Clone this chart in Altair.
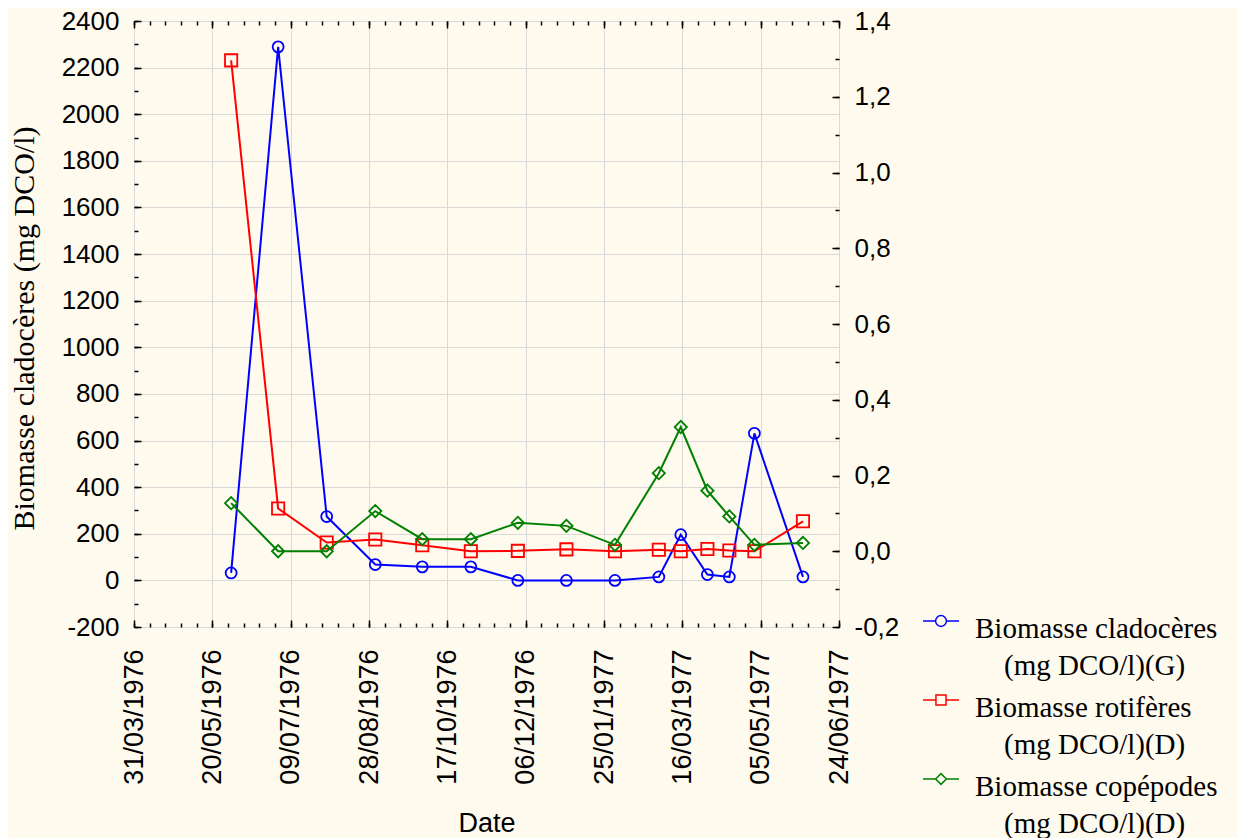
import altair as alt
import pandas as pd

# ---------------- data ----------------
dates = ["1976-06-01", "1976-07-01", "1976-08-01", "1976-09-01", "1976-10-01",
         "1976-11-01", "1976-12-01", "1977-01-01", "1977-02-01", "1977-03-01",
         "1977-03-15", "1977-04-01", "1977-04-15", "1977-05-01", "1977-06-01"]
cladoceres = [32, 2289, 274, 68, 58, 58, 0, 0, 0, 15, 196, 25, 15, 631, 15]
rotiferes = [1.296, 0.113, 0.023, 0.031, 0.016, 0.0, 0.001, 0.005, 0.0, 0.004,
             0.0, 0.006, 0.002, 0.0, 0.079]
copepodes = [0.127, 0.0, 0.0, 0.106, 0.032, 0.032, 0.075, 0.067, 0.017, 0.206,
             0.328, 0.160, 0.092, 0.017, 0.022]

series_names = ["Biomasse cladocères (mg DCO/l)(G)",
                "Biomasse rotifères (mg DCO/l)(D)",
                "Biomasse copépodes (mg DCO/l)(D)"]
series_colors = ["#0000FF", "#FF0000", "#008000"]

x_tick_dates = ["1976-03-31", "1976-05-20", "1976-07-09", "1976-08-28", "1976-10-17",
                "1976-12-06", "1977-01-25", "1977-03-16", "1977-05-05", "1977-06-24"]
left_ticks = [-200, 0, 200, 400, 600, 800, 1000, 1200, 1400, 1600, 1800, 2000, 2200, 2400]
right_ticks = [-0.2, 0.0, 0.2, 0.4, 0.6, 0.8, 1.0, 1.2, 1.4]

y_left_title = "Biomasse cladocères (mg DCO/l)"
x_title = "Date"


def ms(d):
    return int(pd.Timestamp(d, tz="UTC").timestamp() * 1000)


x_major = [ms(d) for d in x_tick_dates]
x_minor = [int(t.timestamp() * 1000) for t in
           pd.date_range(x_tick_dates[0], x_tick_dates[-1], freq="10D", tz="UTC")]
left_minor = list(range(-200, 2401, 100))
right_minor = [round(-0.2 + 0.1 * i, 1) for i in range(17)]

# ---------------- styling ----------------
W, H = 705, 606
SANS = "Liberation Sans"
SERIF = "Liberation Serif"
GRID = "#D9D9D9"
BG = "#FEFAEE"
INDENT = "\u200b" + "\u00a0" * 4
LBL_DY = -6  # vertical nudge for legend labels (applied through the guide-label style)
AX_FS = 26

x_scale = alt.Scale(type="utc", domain=[x_major[0], x_major[-1]], nice=False)
yl_scale = alt.Scale(domain=[-200, 2400], nice=False, zero=False)
yr_scale = alt.Scale(domain=[-0.2, 1.4], nice=False, zero=False)
color_scale = alt.Scale(domain=series_names, range=series_colors)

# legend symbols: a short line with the marker in its middle
circle_path = "M-1,0L-0.3,0M0.3,0L1,0M-0.3,0A0.3,0.3,0,1,0,0.3,0A0.3,0.3,0,1,0,-0.3,0"
square_path = "M-1,0L-0.28,0M0.28,0L1,0M-0.28,-0.28L0.28,-0.28L0.28,0.28L-0.28,0.28Z"
diamond_path = "M-1,0L-0.3,0M0.3,0L1,0M-0.3,0L0,-0.3L0.3,0L0,0.3Z"
shape_scale = alt.Scale(domain=series_names, range=[circle_path, square_path, diamond_path])

legend = alt.Legend(
    title=None, orient="none", legendX=788, legendY=581, direction="vertical",
    padding=0, rowPadding=-9,
    labelFont=SERIF, labelFontSize=29, labelColor="black", labelLimit=600,
    labelBaseline="top", labelOffset=15,
    labelExpr="[slice(datum.label, 0, indexof(datum.label, ' (')), '" + INDENT +
              "' + slice(datum.label, indexof(datum.label, ' (') + 1)]",
    symbolSize=1296, symbolStrokeWidth=1.5, symbolFillColor="transparent",
    symbolOpacity=1,
)
color_enc = alt.Color("series:N", scale=color_scale, legend=legend)

x_main = alt.Axis(
    orient="bottom", values=x_major, labelExpr="utcFormat(datum.value, '%d/%m/%Y')",
    labelAngle=270, labelPadding=22, labelOffset=-LBL_DY, labelFont=SANS, labelFontSize=AX_FS + 1,
    labelColor="black", labelOverlap=False, labelFlush=False,
    grid=True, gridColor=GRID, gridWidth=1, ticks=False, domain=False,
    title=x_title, titleFont=SANS, titleFontSize=27, titleFontWeight="normal",
    titleColor="black", titleX=W / 2, titleY=204, titleAlign="center",
    titleBaseline="alphabetic",
)
yl_main = alt.Axis(
    orient="left", values=left_ticks,
    labelExpr="(datum.value < 0 ? '-' : '') + format(abs(datum.value), 'd')",
    labelPadding=15, labelOffset=-LBL_DY, labelFont=SANS, labelFontSize=AX_FS, labelColor="black",
    grid=True, gridColor=GRID, gridWidth=1, ticks=False, domain=False,
    title=y_left_title, titleFont=SERIF, titleFontSize=30, titleFontWeight="normal",
    titleColor="black", titleX=-101, titleY=307, titleAngle=270, titleAlign="center",
    titleBaseline="alphabetic",
)
yr_main = alt.Axis(
    orient="right", values=right_ticks,
    labelExpr="(datum.value < 0 ? '-' : '') + replace(format(abs(datum.value), '.1f'), '.', ',')",
    labelPadding=15, labelOffset=-LBL_DY, labelFont=SANS, labelFontSize=AX_FS, labelColor="black",
    grid=False, ticks=False, domain=False, title=None,
)


def tick_axis(orient, values, size):
    return alt.Axis(orient=orient, values=values, labels=False, grid=False, domain=False,
                    ticks=True, tickSize=size, tickWidth=1.5, tickColor="black",
                    offset=-size, title=None)


def x_enc(axis):
    return alt.X("date:T", scale=x_scale, axis=axis)


def frame(series_idx, values):
    return pd.DataFrame({"date": dates, "value": values, "series": series_names[series_idx]})


blue_df = frame(0, cladoceres)
red_df = frame(1, rotiferes)
green_df = frame(2, copepodes)


def line(df, yscale, xaxis=None, yaxis=None):
    return alt.Chart(df).mark_line(strokeWidth=2).encode(
        x=x_enc(xaxis), y=alt.Y("value:Q", scale=yscale, axis=yaxis), color=color_enc)


def points(df, yscale, shape, size):
    return alt.Chart(df).mark_point(shape=shape, filled=False, size=size, strokeWidth=1.8,
                                    opacity=1).encode(
        x=x_enc(None), y=alt.Y("value:Q", scale=yscale, axis=None), color=color_enc)


def ticks_layer(df, yscale, xaxis, yaxis):
    return alt.Chart(df).mark_line(strokeOpacity=0).encode(
        x=x_enc(xaxis), y=alt.Y("value:Q", scale=yscale, axis=yaxis))


# invisible layer that only gives the legend its line+marker symbols
legend_layer = alt.Chart(red_df).mark_point(filled=False, opacity=0, size=1296).encode(
    x=x_enc(None), y=alt.Y("value:Q", scale=yr_scale, axis=None),
    color=color_enc,
    shape=alt.Shape("series:N", scale=shape_scale, legend=legend),
)

left = alt.layer(
    line(blue_df, yl_scale, x_main, yl_main),
    points(blue_df, yl_scale, "circle", 120),
    ticks_layer(blue_df, yl_scale, tick_axis("bottom", x_major, 7), tick_axis("left", left_ticks, 7)),
    ticks_layer(blue_df, yl_scale, tick_axis("bottom", x_minor, 4), tick_axis("left", left_minor, 4)),
    ticks_layer(blue_df, yl_scale, tick_axis("top", x_major, 7), None),
    ticks_layer(blue_df, yl_scale, tick_axis("top", x_minor, 4), None),
).resolve_axis(x="independent", y="independent")

right = alt.layer(
    line(red_df, yr_scale, None, yr_main),
    points(red_df, yr_scale, "square", 150),
    line(green_df, yr_scale),
    points(green_df, yr_scale, "diamond", 150),
    ticks_layer(red_df, yr_scale, None, tick_axis("right", right_ticks, 7)),
    ticks_layer(red_df, yr_scale, None, tick_axis("right", right_minor, 4)),
    legend_layer,
).resolve_axis(x="independent", y="independent")

chart = alt.layer(left, right).resolve_scale(y="independent").resolve_axis(
    x="independent", y="independent"
).properties(
    width=W, height=H,
    autosize=alt.AutoSizeParams(type="none"),
    padding={"left": 126, "top": 13, "right": 398, "bottom": 211},
    background=BG,
).configure_view(
    stroke="black", strokeWidth=2, fill="white"
).configure(
    style={"guide-label": {"dy": LBL_DY, "lineHeight": 37}}
)

chart.save("out.html", embed_options={"renderer": "svg", "actions": False})
